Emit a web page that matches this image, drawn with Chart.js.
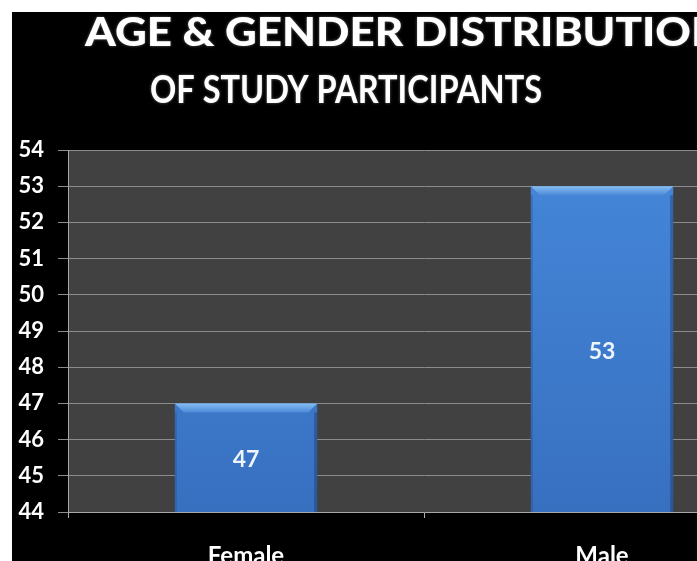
<!DOCTYPE html>
<html>
<head>
<meta charset="utf-8">
<script src="https://cdn.jsdelivr.net/npm/chart.js@4/dist/chart.umd.min.js"></script>
<style>
  html, body { margin: 0; padding: 0; background: #fff; overflow: hidden; width: 697px; height: 561px; }
  #wrap { position: absolute; left: 12px; top: 12px; width: 800px; height: 580px; background: #000; }
  #chart { display: block; }
</style>
</head>
<body>
<div id="wrap"><canvas id="chart" width="800" height="580"></canvas></div>
<script>
(function(){
  'use strict';

  const genders = ['Female', 'Male'];
  const participants = [47, 53];
  const titleLines = ['AGE & GENDER DISTRIBUTION', 'OF STUDY PARTICIPANTS'];
  const yMin = 44;
  const yMax = 54;

  const fontFamily = 'Lato, "Open Sans", sans-serif';

  // plot background painted behind the bars
  const plotBackground = {
    id: 'plotBackground',
    beforeDraw(chart){
      const a = chart.chartArea;
      const ctx = chart.ctx;
      ctx.save();
      ctx.fillStyle = '#414141';
      ctx.fillRect(a.left, a.top, a.right - a.left, a.bottom - a.top);
      ctx.restore();
    }
  };

  // draw a line of text stretched or squeezed to a given width
  function fitText(ctx, text, x, y, width){
    const w = ctx.measureText(text).width;
    ctx.save();
    ctx.translate(x, y);
    ctx.scale(width / w, 1);
    ctx.fillText(text, 0, 0);
    ctx.restore();
  }

  // two-line heading above the plot
  const heading = {
    id: 'heading',
    afterDraw(chart){
      const ctx = chart.ctx;
      ctx.save();
      ctx.fillStyle = '#fff';
      ctx.textBaseline = 'alphabetic';
      ctx.textAlign = 'left';
      ctx.shadowColor = 'rgba(255,255,255,0.4)';
      ctx.shadowBlur = 3;
      ctx.font = '900 40px ' + fontFamily;
      fitText(ctx, titleLines[0], 73, 34, 640);
      ctx.font = 'bold 38px ' + fontFamily;
      fitText(ctx, titleLines[1], 138, 91, 392);
      ctx.restore();
    }
  };

  // bevelled top edge and value label on each bar
  const barDecor = {
    id: 'barDecor',
    afterDatasetsDraw(chart){
      const ctx = chart.ctx;
      const meta = chart.getDatasetMeta(0);
      const bottom = chart.chartArea.bottom;
      ctx.save();
      meta.data.forEach((bar, i) => {
        const half = bar.width / 2;
        const l = bar.x - half, r = bar.x + half, t = bar.y;
        const bev = 9;
        const g = ctx.createLinearGradient(0, t, 0, t + bev);
        g.addColorStop(0, '#86bdf3');
        g.addColorStop(1, '#4c8ad8');
        ctx.fillStyle = g;
        ctx.beginPath();
        ctx.moveTo(l, t);
        ctx.lineTo(r, t);
        ctx.lineTo(r - bev, t + bev);
        ctx.lineTo(l + bev, t + bev);
        ctx.closePath();
        ctx.fill();

        // darker side edges
        ctx.fillStyle = 'rgba(20,40,80,0.35)';
        ctx.fillRect(r - 3, t + bev, 3, bottom - t - bev);
        ctx.fillStyle = 'rgba(20,40,80,0.2)';
        ctx.fillRect(l, t + bev, 2, bottom - t - bev);

        ctx.fillStyle = '#eef4fb';
        ctx.font = 'bold 23px ' + fontFamily;
        ctx.textAlign = 'center';
        ctx.textBaseline = 'middle';
        ctx.fillText(String(participants[i]), bar.x, (bar.y + bottom) / 2 + 2);
      });
      ctx.restore();
    }
  };

  const ctx = document.getElementById('chart').getContext('2d');

  new Chart(ctx, {
    type: 'bar',
    data: {
      labels: genders,
      datasets: [{
        data: participants,
        barPercentage: 0.4,
        categoryPercentage: 1,
        borderWidth: 0,
        backgroundColor(c){
          const area = c.chart.chartArea;
          if (!area) return '#3f7ed0';
          const g = c.chart.ctx.createLinearGradient(0, area.top, 0, area.bottom);
          g.addColorStop(0, '#4587da');
          g.addColorStop(1, '#3870c0');
          return g;
        }
      }]
    },
    options: {
      responsive: false,
      animation: false,
      layout: { padding: { top: 138, right: 32, left: 0, bottom: 0 } },
      plugins: {
        legend: { display: false },
        tooltip: { enabled: false }
      },
      scales: {
        y: {
          min: yMin,
          max: yMax,
          ticks: {
            stepSize: 1,
            color: '#fff',
            padding: 14,
            font: { family: fontFamily, size: 22, weight: 'bold' }
          },
          grid: {
            color: '#8c8c8c',
            lineWidth: 1,
            tickLength: 10,
            tickColor: '#8c8c8c'
          },
          border: { color: '#a8a8a8', width: 1 },
          afterFit(scale){ scale.width = 56; }
        },
        x: {
          ticks: {
            color: '#fff',
            padding: 24,
            font: { family: fontFamily, size: 24, weight: 'bold' }
          },
          grid: {
            offset: true,
            drawOnChartArea: false,
            tickLength: 6,
            tickColor: '#b0b0b0'
          },
          border: { color: '#a8a8a8', width: 1 },
          afterFit(scale){ scale.height = 80; }
        }
      }
    },
    plugins: [plotBackground, heading, barDecor]
  });
})();
</script>
</body>
</html>
